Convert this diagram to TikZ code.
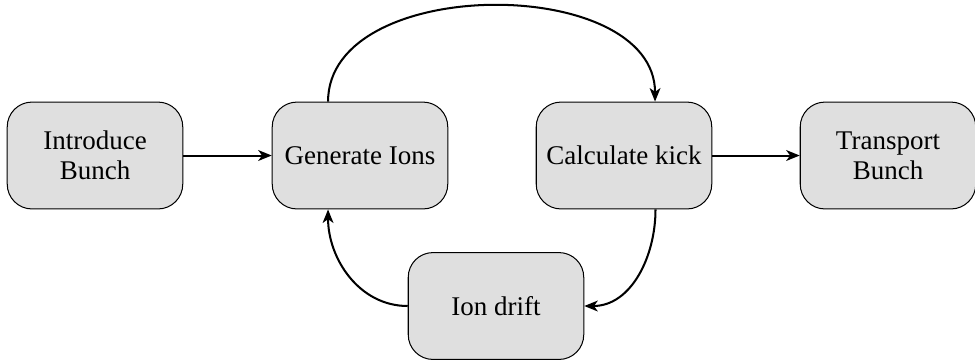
\documentclass[tikz,border=0pt]{standalone}
\usepackage{fontspec}
\setmainfont{Liberation Serif}
\usetikzlibrary{arrows.meta}
\begin{document}
\begin{tikzpicture}[x=0.4444pt,y=-0.4444pt,
  blockbox/.style={draw=black, line width=0.45pt, fill=gray!25, rounded corners=11pt,
    minimum width=78pt, minimum height=47.5pt, align=center,
    font=\rmfamily\fontsize{12}{13.5}\selectfont, inner sep=2pt},
  flow/.style={line width=0.9pt, -{Stealth[length=6pt,width=4.8pt,inset=1.7pt]}}]
\useasboundingbox (0,0) rectangle (975,360);
\node[blockbox] (intro) at (95,155.5) {Introduce\\Bunch};
\node[blockbox] (gen) at (360,155.5) {Generate Ions};
\node[blockbox] (calc) at (624,155.5) {Calculate kick};
\node[blockbox] (trans) at (888,155.5) {Transport\\Bunch};
\node[blockbox] (drift) at (496,306) {Ion drift};
\draw[flow] (intro.east) -- (gen.west);
\draw[flow] (calc.east) -- (trans.west);
\draw[flow] ([xshift=-14.2pt]gen.north) to[out=90,in=90,looseness=1] ([xshift=13.8pt]calc.north);
\draw[flow] ([xshift=14pt]calc.south) to[out=-90,in=0] (drift.east);
\draw[flow] (drift.west) to[out=180,in=-90] ([xshift=-14.2pt]gen.south);
\end{tikzpicture}
\end{document}
